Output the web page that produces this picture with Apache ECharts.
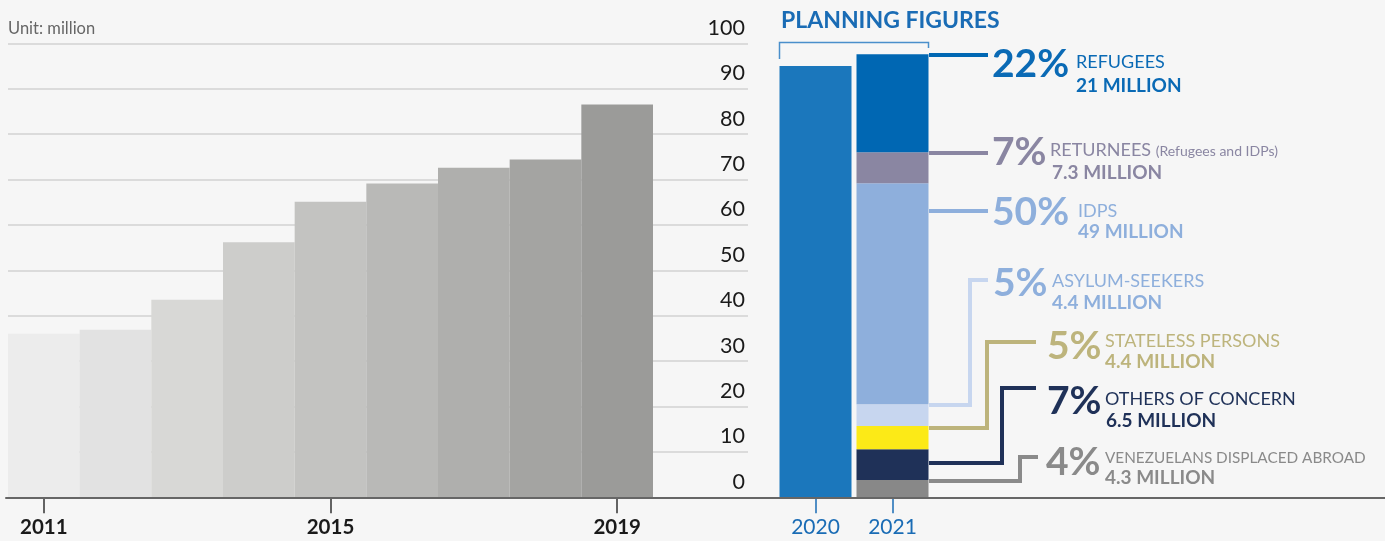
<!DOCTYPE html>
<html>
<head>
<meta charset="utf-8">
<script src="https://cdn.jsdelivr.net/npm/echarts@6/dist/echarts.min.js"></script>
<style>
html,body{margin:0;padding:0;background:#f6f6f6;}
#chart{width:1385px;height:541px;}
</style>
</head>
<body>
<div id="chart"></div>
<script>
// ---- data ----
const years = ['2011','2012','2013','2014','2015','2016','2017','2018','2019'];
const historyValues = [36.0, 36.9, 43.5, 56.2, 65.1, 69.1, 72.6, 74.4, 86.5];
const planningYears = ['2020','2021'];
const planning2020 = [95.0];
const groups = ['Venezuelans displaced abroad','Others of concern','Stateless persons','Asylum-seekers','IDPs','Returnees','Refugees'];
const groupValues2021 = [3.8, 6.8, 5.1, 4.8, 48.7, 6.8, 21.6];
const groupPct = ['4%','7%','5%','5%','50%','7%','22%'];
const groupNames = ['VENEZUELANS DISPLACED ABROAD','OTHERS OF CONCERN','STATELESS PERSONS','ASYLUM-SEEKERS','IDPS','RETURNEES','REFUGEES'];
const groupMillions = ['4.3 MILLION','6.5 MILLION','4.4 MILLION','4.4 MILLION','49 MILLION','7.3 MILLION','21 MILLION'];
const returneesNote = '(Refugees and IDPs)';

// ---- styles ----
const FONT = 'Lato, "Noto Sans", sans-serif';
const historyColors = ['#ececec','#e2e2e2','#d8d8d6','#cdcdcb','#c3c3c1','#b9b9b7','#afafad','#a4a4a2','#9b9b99'];
const barColors = ['#888888','#1f3158','#fcea17','#c7d6ef','#8eafdc','#8a86a2','#0067b3'];
const lineColors = ['#8a8a8a','#1f3158','#bdb47c','#c7d6ef','#8eafdc','#8a86a2','#0067b3'];
const textColors = ['#8a8a8a','#1f3158','#bdb47c','#8eafdc','#8eafdc','#8a86a2','#0a6ab5'];
const blue = '#1a6cb5';

// annotation layout (pixels)
const connectors = [
  [[929,481],[1020,481],[1020,457],[1038,457]],
  [[929,463],[1002,463],[1002,388],[1036,388]],
  [[929,428],[987,428],[987,342],[1036,342]],
  [[929,405],[970,405],[970,280],[988,280]],
  [[929,211],[988,211]],
  [[929,153],[988,153]],
  [[929,55],[988,55]]
];
// [pctX, pctY, nameX, nameY, millX, millY, nameSize]
const labelPos = [
  [1046,462,1105,458,1105,478,15.3],
  [1047,401,1105,399,1106,421,18],
  [1047,346,1105,341,1105,362,18],
  [993,283,1052,281,1052,303,18],
  [992,212,1078,211,1078,232,18],
  [992,152,1050,150,1052,173,18],
  [992,64,1076,62,1076,86,18]
];

const graphics = [];
// bracket
graphics.push({type:'polyline', z:10, shape:{points:[[779.5,59],[779.5,42.5],[928.5,42.5],[928.5,48]]},
  style:{stroke:'#4a8fcb', lineWidth:1.5, fill:null}});
connectors.forEach((pts,i)=>{
  graphics.push({type:'polyline', z:10, shape:{points:pts},
    style:{stroke:lineColors[i], lineWidth:4, fill:null, lineJoin:'miter'}});
});
labelPos.forEach((p,i)=>{
  graphics.push({type:'text', z:11, x:p[0], y:p[1], style:{text:groupPct[i], fill:textColors[i],
    font:'bold 39px ' + FONT, align:'left', verticalAlign:'middle'}});
  graphics.push({type:'text', z:11, x:p[2], y:p[3], style:{
    text: i===5 ? '{a|' + groupNames[i] + '} {b|' + returneesNote + '}' : groupNames[i],
    rich: i===5 ? {a:{fontSize:18, fontFamily:FONT, fill:textColors[i], verticalAlign:'bottom'},
                   b:{fontSize:14, fontFamily:FONT, fill:textColors[i], verticalAlign:'bottom', padding:[0,0,1,0]}} : undefined,
    fill:textColors[i], font:'normal ' + p[6] + 'px ' + FONT, align:'left', verticalAlign:'middle'}});
  graphics.push({type:'text', z:11, x:p[4], y:p[5], style:{text:groupMillions[i], fill:textColors[i],
    font:'bold 19px ' + FONT, align:'left', verticalAlign:'middle'}});
});

const TOP = 43.3, H = 454;
const chart = echarts.init(document.getElementById('chart'));
const series = [
  {type:'bar', name:'history', xAxisIndex:0, yAxisIndex:0, barCategoryGap:'0%', z:2,
   data: historyValues.map((v,i)=>({value:v, itemStyle:{color:historyColors[i]}}))},
  {type:'bar', name:'2020', xAxisIndex:2, yAxisIndex:2, stack:'p', barWidth:72, z:2,
   itemStyle:{color:'#1b77bc'}, data:[planning2020[0], '-']}
];
groups.forEach((g,i)=>{
  series.push({type:'bar', name:g, xAxisIndex:2, yAxisIndex:2, stack:'p', barWidth:72, z:2,
    itemStyle:{color:barColors[i]}, data:['-', groupValues2021[i]]});
});

chart.setOption({
  backgroundColor:'#f6f6f6',
  animation:false,
  textStyle:{fontFamily:FONT},
  title:[
    {text:'Unit: million', left:8, top:20, padding:0,
     textStyle:{fontSize:16.5, fontWeight:'normal', color:'#666', fontFamily:FONT}},
    {text:'PLANNING FIGURES', left:781, top:9, padding:0,
     textStyle:{fontSize:23, fontWeight:'bold', color:blue, fontFamily:FONT}}
  ],
  grid:[
    {left:8, top:TOP, width:645, height:H},
    {left:8, top:TOP, width:740, height:H},
    {left:777, top:TOP, width:154, height:H},
    {left:6, top:TOP, width:1379, height:H}
  ],
  xAxis:[
    {type:'category', gridIndex:0, data:years, z:5,
     axisLine:{show:false},
     axisTick:{show:true, alignWithLabel:true, interval:(i)=>i%4===0, length:16, lineStyle:{color:'#333', width:1.5}},
     axisLabel:{interval:(i)=>i%4===0, margin:20, fontSize:20.5, fontWeight:'bold', color:'#1a1a1a', fontFamily:FONT, lineHeight:20}},
    {type:'value', gridIndex:1, show:false},
    {type:'category', gridIndex:2, data:planningYears, z:5,
     axisLine:{show:false},
     axisTick:{show:true, alignWithLabel:true, length:16, lineStyle:{color:blue, width:1.5}},
     axisLabel:{margin:20, fontSize:21, color:blue, fontFamily:FONT, lineHeight:20}},
    {type:'value', gridIndex:3, min:0, max:1, z:6,
     axisLine:{show:true, onZero:true, lineStyle:{color:'#666', width:2}},
     axisTick:{show:false}, axisLabel:{show:false}, splitLine:{show:false}}
  ],
  yAxis:[
    {type:'value', gridIndex:0, min:0, max:100, show:false},
    {type:'value', gridIndex:1, min:0, max:100, interval:10, position:'right', z:0,
     axisLine:{show:false}, axisTick:{show:false},
     splitLine:{show:true, lineStyle:{color:'#d2d2d2', width:1.5}},
     axisLabel:{inside:true, margin:3, fontSize:21.5, color:'#1a1a1a', fontFamily:FONT, verticalAlign:'bottom', lineHeight:31}},
    {type:'value', gridIndex:2, min:0, max:100, show:false},
    {type:'value', gridIndex:3, min:0, max:100, show:false}
  ],
  series: series,
  graphic: graphics
});
</script>
</body>
</html>
